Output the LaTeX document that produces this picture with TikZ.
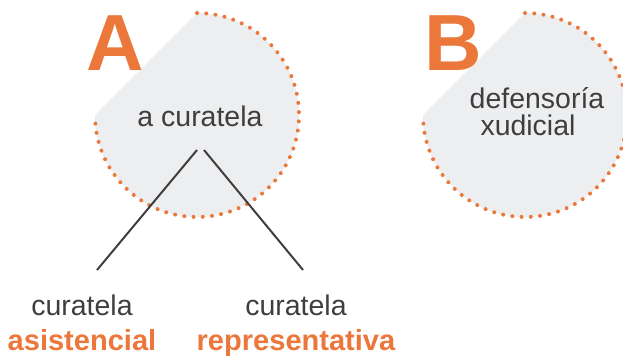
\documentclass[tikz,border=0pt]{standalone}
\usepackage{fontspec}
\setmainfont{Liberation Sans}
\usetikzlibrary{positioning}
\definecolor{peel}{RGB}{236,119,58}
\definecolor{ink}{RGB}{62,62,62}
\definecolor{pale}{RGB}{237,238,240}

\begin{document}
\begin{tikzpicture} [x=0.03cm, y=-0.03cm, node distance = 10.5mm, on grid,
    word/.style = {font=\fontsize{24.3}{29}\selectfont, text=ink, inner sep=0pt,
                   text height=0.72em, text depth=0.22em, anchor=base},
    kind/.style = {word, font=\fontsize{24.8}{29}\selectfont\bfseries, text=peel},
    letter/.style = {font=\fontsize{68}{70}\selectfont\bfseries, text=peel,
                     inner sep=0pt, anchor=base},
    disc/.style = {fill=pale},
    rim/.style = {draw=peel, line width=3.4pt, line cap=round,
                  dash pattern=on 0pt off 7.9pt},
    leg/.style = {draw=ink, line width=1.7pt}]
    \clip (0,0) rectangle (623,355);

    \path [disc] (197,13) arc [start angle=-90, end angle=180, radius=102] -- cycle;
    \path [rim]  (197,13) arc [start angle=-90, end angle=180, radius=102];
    \path [disc] (525,13) arc [start angle=-90, end angle=180, radius=102] -- cycle;
    \path [rim]  (525,13) arc [start angle=-90, end angle=180, radius=102];

    \node (letA) [letter] at (115,70) {A};
    \node (letB) [letter] at (453,70) {B};

    \node (cur)  [word] at (200,126) {a curatela};
    \node (curL) [word] at (82,315) {curatela};
    \node (asis) [kind, below = of curL] {asistencial};
    \node (curR) [word] at (296,315) {curatela};
    \node (repr) [kind, below = of curR] {representativa};
    \node (def)  [word] at (537,108) {defensoría};
    \node (xud)  [word, below = 8.1mm of def, xshift=-2.7mm] {xudicial};

    \coordinate (forkL) at (197,150);
    \coordinate (forkR) at (204,150);
    \coordinate (footL) at (97,270);
    \coordinate (footR) at (303,270);

    \path [leg] (forkL) -- (footL);
    \path [leg] (forkR) -- (footR);

\end{tikzpicture}
\end{document}
